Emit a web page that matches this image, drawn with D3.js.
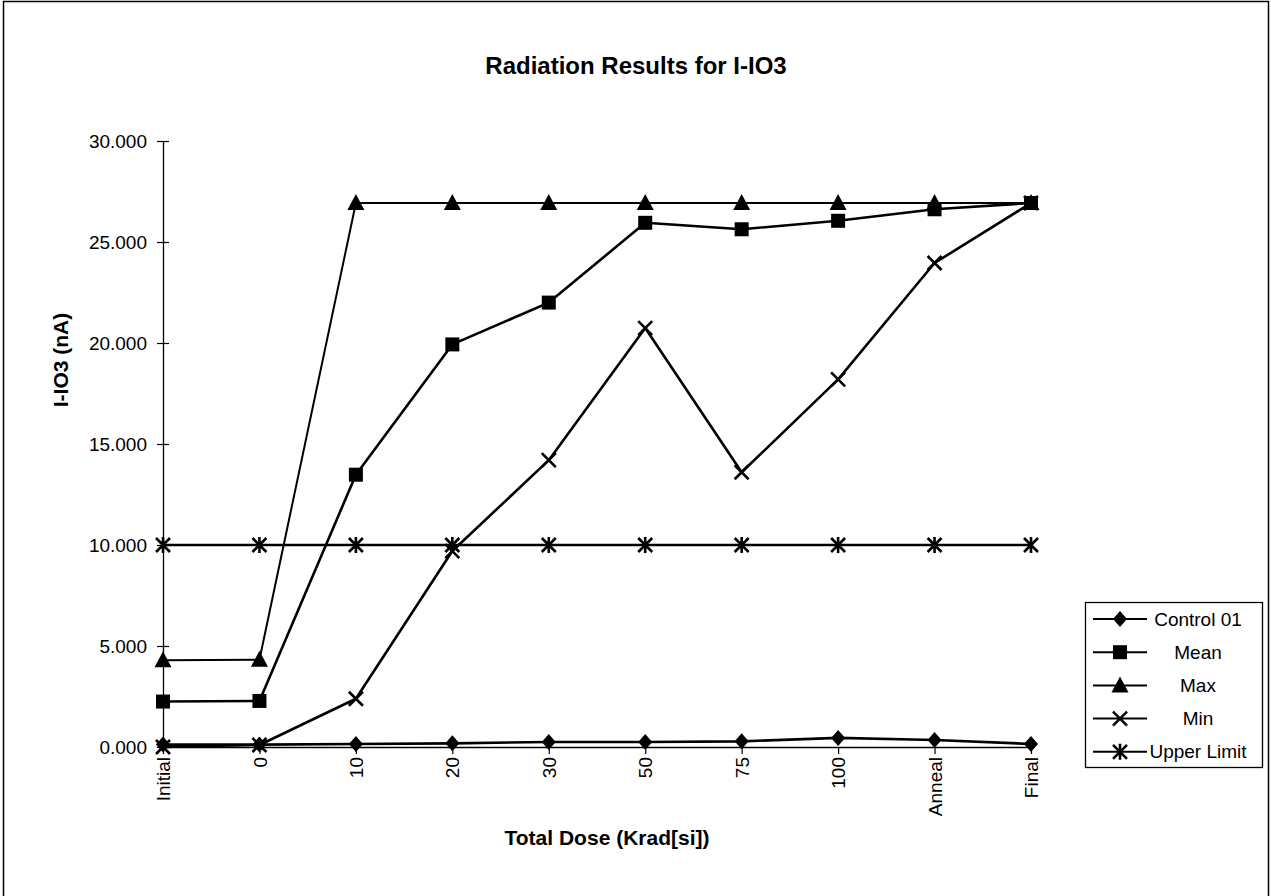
<!DOCTYPE html>
<html>
<head>
<meta charset="utf-8">
<script src="https://cdn.jsdelivr.net/npm/d3@7"></script>
<style>
  body { margin: 0; background: #fff; }
  text { font-family: Arial, "Liberation Sans", sans-serif; fill: #000; }
</style>
</head>
<body>
<script>
// categories on the x axis (Total Dose)
var categories = ["Initial", "0", "10", "20", "30", "50", "75", "100", "Anneal", "Final"];

// series values (nA)
var control01 = [0.12, 0.12, 0.15, 0.18, 0.25, 0.25, 0.28, 0.45, 0.35, 0.15];
var mean = [2.25, 2.28, 13.48, 19.93, 22.0, 25.95, 25.63, 26.05, 26.62, 26.93];
var max = [4.3, 4.32, 26.93, 26.93, 26.93, 26.93, 26.93, 26.93, 26.93, 26.93];
var min = [0.0, 0.1, 2.39, 9.7, 14.2, 20.74, 13.6, 18.2, 23.96, 26.93];
var upperLimit = [10, 10, 10, 10, 10, 10, 10, 10, 10, 10];

var yTicks = [0, 5, 10, 15, 20, 25, 30];

var seriesNames = ["Control 01", "Mean", "Max", "Min", "Upper Limit"];
var seriesValues = [control01, mean, max, min, upperLimit];
var seriesMarkers = ["diamond", "square", "triangle", "x", "star"];

var width = 1271, height = 896;

var svg = d3.select("body").append("svg")
  .attr("width", width)
  .attr("height", height)
  .attr("viewBox", [0, 0, width, height]);

// chart frame
svg.append("rect")
  .attr("x", 3.5).attr("y", 1.5)
  .attr("width", 1265).attr("height", 900)
  .attr("fill", "none")
  .attr("stroke", "#000")
  .attr("stroke-width", 1.5);

var x = d3.scalePoint()
  .domain(categories)
  .range([163, 1031]);

var y = d3.scaleLinear()
  .domain([0, 30])
  .range([747, 141]);

// y axis with crossing ticks
var yAxis = g => g
  .attr("transform", "translate(163,0)")
  .call(d3.axisLeft(y).tickValues(yTicks).tickFormat(d3.format(".3f")).tickSize(0).tickPadding(16))
  .call(g => g.select(".domain").attr("stroke-width", 1.3))
  .call(g => g.selectAll(".tick text").attr("font-size", 19).attr("font-family", "Arial, 'Liberation Sans', sans-serif"))
  .call(g => g.selectAll(".tick").append("line")
    .attr("x1", -6).attr("x2", 6)
    .attr("stroke", "#000").attr("stroke-width", 1.2));

var xAxis = g => g
  .attr("transform", "translate(0,747)")
  .call(d3.axisBottom(x).tickSizeInner(7).tickSizeOuter(0).tickPadding(10))
  .call(g => g.select(".domain").attr("stroke-width", 1.3))
  .call(g => g.selectAll(".tick line").attr("stroke-width", 1.2))
  .call(g => g.selectAll(".tick text")
    .attr("font-size", 19)
    .attr("font-family", "Arial, 'Liberation Sans', sans-serif")
    .attr("transform", "rotate(-90)")
    .attr("text-anchor", "end")
    .attr("x", -10)
    .attr("y", 0)
    .attr("dy", "0.35em"));

svg.append("g").call(yAxis);
svg.append("g").call(xAxis);

// titles
svg.append("text")
  .attr("x", 636).attr("y", 74)
  .attr("text-anchor", "middle")
  .attr("font-size", 24)
  .attr("font-weight", "bold")
  .text("Radiation Results for I-IO3");

svg.append("text")
  .attr("x", 607).attr("y", 845)
  .attr("text-anchor", "middle")
  .attr("font-size", 21)
  .attr("font-weight", "bold")
  .text("Total Dose (Krad[si])");

svg.append("text")
  .attr("transform", "translate(68,360) rotate(-90)")
  .attr("text-anchor", "middle")
  .attr("font-size", 21)
  .attr("font-weight", "bold")
  .text("I-IO3 (nA)");

// marker drawing
function drawMarker(g, type, cx, cy) {
  if (type === "diamond") {
    g.append("path").attr("d", `M${cx},${cy - 8}L${cx + 7},${cy}L${cx},${cy + 8}L${cx - 7},${cy}Z`).attr("fill", "#000");
  } else if (type === "square") {
    g.append("rect").attr("x", cx - 7).attr("y", cy - 7).attr("width", 14).attr("height", 14).attr("fill", "#000");
  } else if (type === "triangle") {
    g.append("path").attr("d", `M${cx},${cy - 9}L${cx + 8.5},${cy + 7}L${cx - 8.5},${cy + 7}Z`).attr("fill", "#000");
  } else if (type === "x") {
    g.append("path").attr("d", `M${cx - 7},${cy - 7}L${cx + 7},${cy + 7}M${cx + 7},${cy - 7}L${cx - 7},${cy + 7}`)
      .attr("stroke", "#000").attr("stroke-width", 2.6).attr("fill", "none");
  } else if (type === "star") {
    g.append("path").attr("d", `M${cx - 7},${cy - 7}L${cx + 7},${cy + 7}M${cx + 7},${cy - 7}L${cx - 7},${cy + 7}M${cx},${cy - 8}L${cx},${cy + 8}`)
      .attr("stroke", "#000").attr("stroke-width", 2.6).attr("fill", "none");
  }
}

var line = d3.line()
  .x((d, i) => x(categories[i]))
  .y(d => y(d));

seriesValues.forEach((vals, s) => {
  var g = svg.append("g");
  g.append("path")
    .datum(vals)
    .attr("fill", "none")
    .attr("stroke", "#000")
    .attr("stroke-width", s === 2 ? 2 : 2.6)
    .attr("stroke-linejoin", "round")
    .attr("d", line);
  vals.forEach((v, i) => drawMarker(g, seriesMarkers[s], x(categories[i]), y(v)));
});

// legend
var legend = svg.append("g");
legend.append("rect")
  .attr("x", 1085.5).attr("y", 602.5)
  .attr("width", 177).attr("height", 165)
  .attr("fill", "#fff")
  .attr("stroke", "#000")
  .attr("stroke-width", 1.3);

seriesNames.forEach((name, s) => {
  var ly = 619 + s * 33.2;
  legend.append("line")
    .attr("x1", 1093).attr("x2", 1147)
    .attr("y1", ly).attr("y2", ly)
    .attr("stroke", "#000").attr("stroke-width", 2);
  drawMarker(legend, seriesMarkers[s], 1120, ly);
  legend.append("text")
    .attr("x", 1198).attr("y", ly)
    .attr("dy", "0.35em")
    .attr("text-anchor", "middle")
    .attr("font-size", 19)
    .text(name);
});
</script>
</body>
</html>
